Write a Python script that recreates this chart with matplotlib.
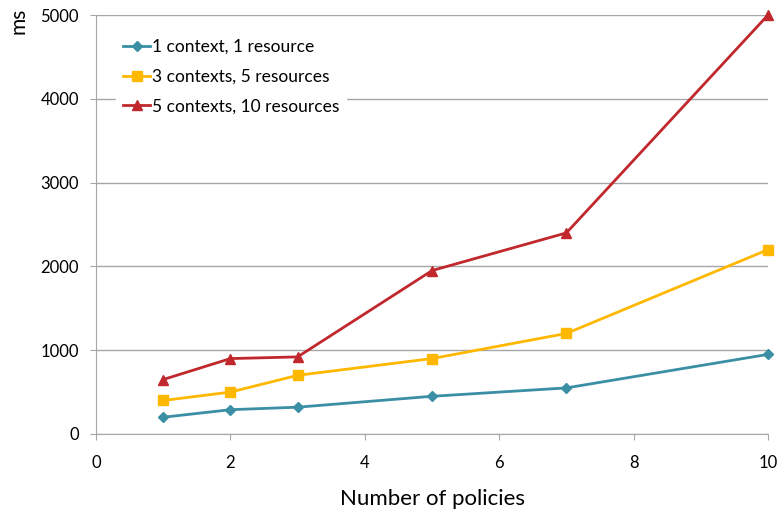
import matplotlib
matplotlib.use("Agg")
import matplotlib.pyplot as plt

x_vals = [1, 2, 3, 5, 7, 10]
s1 = [200, 290, 320, 450, 550, 950]
s2 = [400, 500, 700, 900, 1200, 2200]
s3 = [650, 900, 920, 1950, 2400, 5000]
labels = ["1 context, 1 resource", "3 contexts, 5 resources", "5 contexts, 10 resources"]
colors = ["#3A8FA5", "#FFB800", "#C0282D"]
markers = ["D", "s", "^"]
msizes = [4.8, 7, 7.5]

plt.rcParams['font.family'] = ['Lato', 'DejaVu Sans']
fig = plt.figure(figsize=(7.81, 5.16), dpi=100)
L, R, T, B = 96, 768, 15, 434
ax = fig.add_axes([L/781, (516-B)/516, (R-L)/781, (B-T)/516])

for ys, lab, c, m, ms in zip([s1, s2, s3], labels, colors, markers, msizes):
    ax.plot(x_vals, ys, color=c, marker=m, markersize=ms, linewidth=2.0, label=lab, clip_on=False, zorder=3)

ax.set_xlim(0, 10)
ax.set_ylim(0, 5000)
ax.set_xticks([0, 2, 4, 6, 8, 10])
ax.set_yticks([0, 1000, 2000, 3000, 4000, 5000])
ax.yaxis.grid(True, color="#A6A6A6", linewidth=1)
ax.set_axisbelow(True)
for sp in ["top", "right"]:
    ax.spines[sp].set_visible(False)
for sp in ["left", "bottom"]:
    ax.spines[sp].set_color("#A6A6A6")
ax.tick_params(axis="both", direction="out", length=4.3, color="#A6A6A6", labelsize=12, labelcolor="black")
ax.tick_params(axis="x", pad=10.5)
ax.tick_params(axis="y", pad=8)
ax.set_xlabel("Number of policies", fontsize=16, labelpad=13)
fig.text(19/781, 1 - 21/516, "ms", rotation=90, fontsize=15, ha="center", va="center")

leg = ax.legend(loc="upper left", bbox_to_anchor=(0.03, 0.96), frameon=True, fontsize=12.5,
                handlelength=1.55, handletextpad=0.12, labelspacing=0.8, borderpad=0.4,
                borderaxespad=0)
leg.get_frame().set_edgecolor("white")
leg.get_frame().set_facecolor("white")
leg.get_frame().set_alpha(1)
leg.get_frame().set_boxstyle("square", pad=0)

fig.savefig("out.png", dpi=100)
